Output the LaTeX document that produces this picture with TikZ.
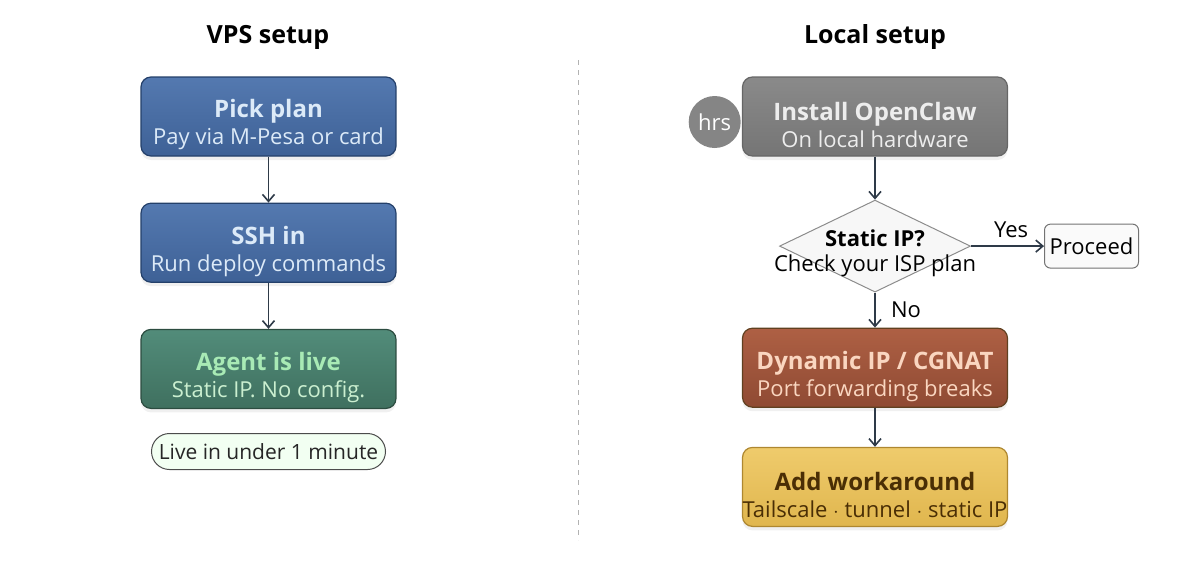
\documentclass[tikz,border=0pt]{standalone}
\usepackage{fontspec}
\setmainfont{Open Sans}
\usepackage{xcolor}
\usetikzlibrary{positioning,arrows.meta,shapes.geometric,shadows}
\definecolor{navy}{HTML}{24406A}
\definecolor{vpstop}{HTML}{5479B0}
\definecolor{vpsbot}{HTML}{3E6196}
\definecolor{vpstext}{HTML}{DCEAF8}
\definecolor{greentop}{HTML}{528C7A}
\definecolor{greenbot}{HTML}{3F705F}
\definecolor{greenline}{HTML}{2C4C40}
\definecolor{greenhead}{HTML}{A8EAB5}
\definecolor{greentext}{HTML}{CBEFD0}
\definecolor{greytop}{HTML}{8A8A8A}
\definecolor{greybot}{HTML}{757575}
\definecolor{browntop}{HTML}{AE6044}
\definecolor{brownbot}{HTML}{8F4A33}
\definecolor{browntext}{HTML}{FAD6C0}
\definecolor{goldtop}{HTML}{EFCB6C}
\definecolor{goldbot}{HTML}{E0B64E}
\definecolor{goldline}{HTML}{AE8730}
\definecolor{goldtext}{HTML}{4A2E05}
\definecolor{arrowc}{HTML}{2E3A48}
\newcommand{\boxhead}{\fontsize{24pt}{27pt}\selectfont\bfseries\rule{0pt}{35pt}}

\begin{document}
\begin{tikzpicture}[
    font=\fontsize{22pt}{27pt}\selectfont,
    node distance=46pt and 36pt,
    sidetitle/.style={font=\fontsize{25pt}{29pt}\selectfont\bfseries},
    stepbox/.style={rounded corners=10pt, line width=1.2pt, align=center,
                minimum width=255pt, minimum height=79pt, inner sep=2pt,
                drop shadow={opacity=0.12, shadow xshift=0pt, shadow yshift=-4pt}},
    wide/.style={minimum width=265pt, inner sep=0pt},
    vps/.style={stepbox, draw=navy, top color=vpstop, bottom color=vpsbot, text=vpstext},
    done/.style={stepbox, draw=greenline, top color=greentop, bottom color=greenbot, text=greentext},
    hw/.style={stepbox, wide, draw=black!60, top color=greytop, bottom color=greybot, text=white!93!black},
    bad/.style={stepbox, wide, draw=brown!50!black, top color=browntop, bottom color=brownbot, text=browntext},
    fix/.style={stepbox, wide, draw=goldline, top color=goldtop, bottom color=goldbot, text=goldtext},
    decision/.style={diamond, draw=black!45, line width=1pt, fill=black!3,
                minimum width=191pt, minimum height=92pt, inner sep=0pt},
    pill/.style={draw=black!70, line width=1pt, rounded corners=18pt, fill=green!5,
                minimum width=234pt, minimum height=36pt, text=black!85,
                font=\fontsize{21pt}{25pt}\selectfont},
    endbox/.style={draw=black!55, line width=1pt, rounded corners=6pt, fill=black!2,
                minimum width=94pt, minimum height=44pt, inner sep=2pt},
    arrow/.style={-{Straight Barb[length=7pt,width=12pt]}, line width=1.6pt, draw=arrowc},
  ]
    \useasboundingbox (0,0) rectangle (1199pt,-563pt);

    % left column
    \node[sidetitle] (vpstitle) at (268pt,-37pt) {VPS setup};
    \node[vps] (pick) at (268.5pt,-116.5pt)
       {{\boxhead Pick plan}\\Pay via M-Pesa or card};
    \node[vps, below=of pick] (ssh)
       {{\boxhead SSH in}\\Run deploy commands};
    \node[done, below=of ssh] (live)
       {{\boxhead\color{greenhead}Agent is live}\\Static IP. No config.};
    \node[pill, below=24pt of live] (fast) {Live in under 1 minute};

    % divider
    \coordinate (divtop) at (578pt,-60pt);
    \coordinate (divbot) at (578pt,-540pt);
    \draw[black!30, line width=1pt, dash pattern=on 5pt off 5pt] (divtop) -- (divbot);

    % right column
    \node[sidetitle] (localtitle) at (875pt,-37pt) {Local setup};
    \node[hw] (install) at (875pt,-116.5pt)
       {{\boxhead Install OpenClaw}\\On local hardware};
    \node[circle, fill=black!48, minimum size=52pt, inner sep=0pt, text=white,
          left=1pt of install.west, yshift=-5.5pt] (hrs) {hrs};
    \node[decision, below=43pt of install] (check) {};
    \node[align=center, yshift=-7pt] (checktext) at (check)
       {{\bfseries Static IP?}\\[-2pt]Check your ISP plan};
    \node[endbox, right=73pt of check.east, anchor=west] (proceed) {Proceed};
    \node[bad, below=35pt of check] (cgnat)
       {{\boxhead Dynamic IP / CGNAT}\\Port forwarding breaks};
    \node[fix, below=39pt of cgnat] (workaround)
       {{\boxhead Add workaround}\\Tailscale $\cdot$ tunnel $\cdot$ static IP};

    \draw[arrow] (pick) -- (ssh);
    \draw[arrow] (ssh) -- (live);
    \draw[arrow] (install) -- (check);
    \draw[arrow] (check.east) -- node[above, pos=0.55, yshift=4pt]{Yes} (proceed.west);
    \draw[arrow] (check.south) -- node[right, xshift=12pt]{No} (cgnat.north);
    \draw[arrow] (cgnat) -- (workaround);
  \end{tikzpicture}
\end{document}
